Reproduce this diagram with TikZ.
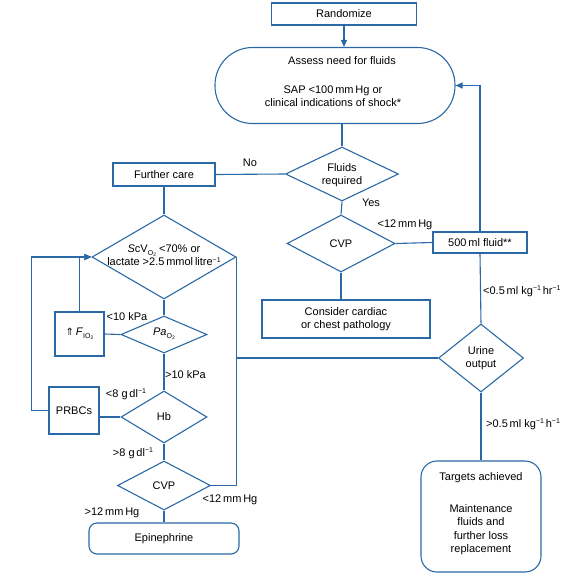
\documentclass[tikz,border=0pt]{standalone}
\usepackage{fontspec}
\setmainfont{Liberation Sans}
\newfontfamily\dejavu{DejaVu Sans}
\usetikzlibrary{shapes.geometric,arrows.meta}
\definecolor{fc}{HTML}{2A69A6}
\newcommand{\lowtxt}[1]{\raisebox{-0.45ex}{\fontsize{7}{7}\selectfont #1}}
\newcommand{\hightxt}[1]{\raisebox{0.65ex}{\fontsize{7}{7}\selectfont #1}}
\newcommand{\Otwo}{O\raisebox{-0.3ex}{\fontsize{5}{5}\selectfont 2}}
\begin{document}
\begin{tikzpicture}[x=1pt,y=-1pt,
  every node/.style={font=\fontsize{11}{13.3}\selectfont, inner sep=0pt},
  shp/.style={draw=fc, line width=1.1pt},
  rbox/.style={shp, rectangle},
  rnd/.style={shp, rectangle, rounded corners=#1},
  dia/.style={shp, diamond},
  ln/.style={draw=fc, line width=1.1pt},
  arr/.style={ln, -{Triangle[length=7pt,width=6pt]}},
  txt/.style={align=center},
  lbl/.style={}
]
\useasboundingbox (0,0) rectangle (579,581);

% nodes
\node[rbox, minimum width=145pt, minimum height=22pt] (rand) at (344,14) {Randomize};
\node[rnd=37.5pt, minimum width=240pt, minimum height=76pt] (assess) at (335,85.5) {};
\node[txt] (assess1) at (342,61) {Assess need for fluids};
\node[txt] (assess2) at (333,96.5) {SAP <100\,mm\,Hg or\\clinical indications of shock*};

\node[dia, minimum width=113pt, minimum height=54pt] (fluids) at (342,174) {};
\node[txt] (fluidst) at (342,175.5) {Fluids\\required};

\node[rbox, minimum width=102pt, minimum height=23pt] (further) at (164,174.5) {Further care};

\node[dia, minimum width=108pt, minimum height=57pt] (cvp1) at (341,243.5) {};
\node (cvp1t) at (341,243.5) {CVP};

\node[rbox, minimum width=168pt, minimum height=38pt, txt] (consider) at (346,319) {Consider cardiac\\or chest pathology};

\node[rbox, minimum width=94pt, minimum height=21pt] (f500) at (480,242.5) {500\,ml fluid**};

\node[dia, minimum width=85pt, minimum height=68pt] (urine) at (481,358) {};
\node[txt] (urinet) at (481,358) {Urine\\output};

\node[rnd=16pt, minimum width=120pt, minimum height=111pt] (targets) at (481,516.5) {};
\node (targets1) at (481,478) {Targets achieved};
\node[txt] (targets2) at (481,529.5) {Maintenance\\fluids and\\further loss\\replacement};

\node[dia, minimum width=144pt, minimum height=84pt] (scv) at (164,257) {};
\node[txt] (scvt) at (164,255.5) {\textit{S}cV\lowtxt{\Otwo} <70\% or\\lactate >2.5\,mmol\,litre\hightxt{−1}};

\node[rbox, minimum width=49pt, minimum height=44pt] (fio) at (79.5,334) {{\dejavu\fontsize{10}{12}\selectfont ⇑}\,\textit{F}\lowtxt{I\Otwo}};

\node[dia, minimum width=86pt, minimum height=37pt] (pao) at (164,334.5) {};
\node (paot) at (164,334) {\textit{Pa}\lowtxt{\Otwo}};

\node[rbox, minimum width=50pt, minimum height=47pt] (prbc) at (74,410.5) {PRBCs};

\node[dia, minimum width=86pt, minimum height=52pt] (hb) at (164,417) {};
\node (hbt) at (164,417) {Hb};

\node[dia, minimum width=93pt, minimum height=49pt] (cvp2) at (164,485.5) {};
\node (cvp2t) at (164,485.5) {CVP};

\node[rnd=8pt, minimum width=150pt, minimum height=31pt] (epi) at (164,538.5) {Epinephrine};

% labels
\node[lbl] (lno) at (250,163) {No};
\node[lbl] (lyes) at (371,203) {Yes};
\node[lbl] (l12a) at (405,225) {<12\,mm\,Hg};
\node[lbl, anchor=west] (lu1) at (483,291) {<0.5\,ml kg\hightxt{−1}\,hr\hightxt{−1}};
\node[lbl, anchor=west] (lu2) at (486,424) {>0.5\,ml kg\hightxt{−1}\,h\hightxt{−1}};
\node[lbl] (l10a) at (127,317) {<10 kPa};
\node[lbl, anchor=west] (l10b) at (165,375) {>10 kPa};
\node[lbl] (l8a) at (126,394) {<8 g\,dl\hightxt{−1}};
\node[lbl] (l8b) at (133,453) {>8 g\,dl\hightxt{−1}};
\node[lbl] (l12b) at (230,500) {<12\,mm\,Hg};
\node[lbl] (l12c) at (112,513) {>12\,mm\,Hg};

% connectors
\draw[arr] (rand.south) -- (rand.south |- assess.north);
\draw[ln] (fluids.north |- assess.south) -- (fluids.north);
\draw[ln] (fluids.west) -- (further.east);
\draw[ln] (fluids.south) -- (cvp1.north);
\draw[ln] (cvp1.south) -- (cvp1.south |- consider.north);
\draw[ln] (cvp1.east) -- (f500.west);
\draw[arr] (f500.north) |- (assess.east);
\draw[ln] (f500.south) -- (urine.north);
\draw[ln] (urine.south) -- (targets.north);
\draw[ln] (urine.west) -- (urine.west -| scv.east);
\draw[ln] (further.south) -- (scv.north);
\draw[ln] (scv.south) -- (pao.north);
\draw[ln] (pao.west) -- (fio.east);
\draw[arr] (fio.north) |- (scv.west);
\draw[ln] (pao.south) -- (hb.north);
\draw[ln] (hb.west) -- (hb.west -| prbc.east);
\draw[arr] (prbc.west) -- ++(-17,0) |- (scv.west);
\draw[ln] (hb.south) -- (cvp2.north);
\draw[ln] (cvp2.south) -- (epi.north);
\draw[ln] (scv.east) |- (cvp2.east);
\end{tikzpicture}
\end{document}
